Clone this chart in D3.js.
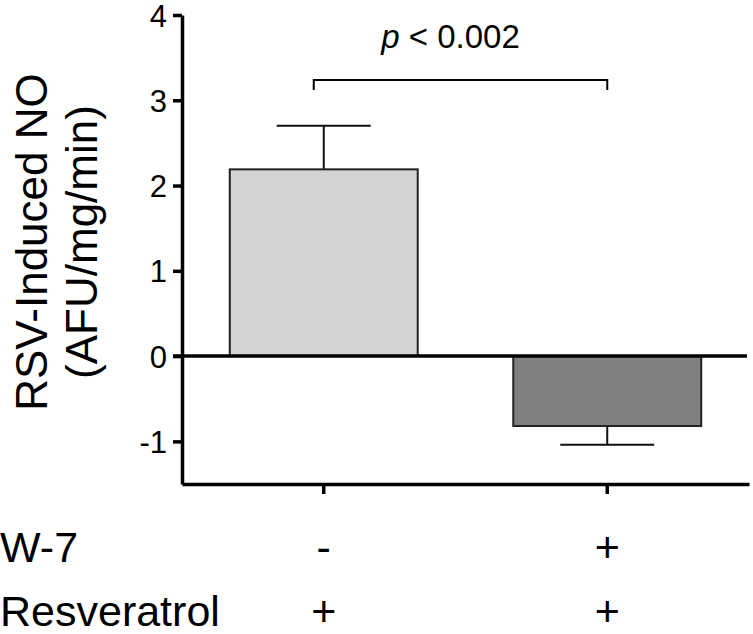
<!DOCTYPE html>
<html>
<head>
<meta charset="utf-8">
<script src="https://cdn.jsdelivr.net/npm/d3@7"></script>
<style>
	body { margin: 0; background: #fff; }
	text { font-family: "Liberation Sans", Arial, sans-serif; fill: #000; }
</style>
</head>
<body>
<svg id="chart" width="753" height="634"></svg>
<script>
// data
var groups = ["A", "B"];
var means = [2.19, -0.82];
var errors = [0.51, 0.22];
var barColors = ["#d3d3d3", "#808080"];
var yTicks = [-1, 0, 1, 2, 3, 4];
var w7Signs = ["-", "+"];
var resvSigns = ["+", "+"];
var pLabel = "0.002";

var svg = d3.select("#chart");

var x = d3.scaleBand()
	.domain(groups)
	.range([182, 749])
	.paddingInner(0)
	.paddingOuter(0);

var y = d3.scaleLinear()
	.domain([-1.5, 4])
	.range([484, 15]);

var barW = x.bandwidth() * 0.663;
var capW = barW / 2;
var cx = function (d) { return x(d) + x.bandwidth() / 2; };

// y axis
var yAxis = svg.append("g")
	.attr("transform", "translate(182,0)")
	.call(d3.axisLeft(y).tickValues(yTicks).tickSize(9).tickSizeOuter(0).tickPadding(6)
		.tickFormat(function (d) { return String(d); }));
yAxis.select(".domain").attr("stroke", "#000").attr("stroke-width", 3.5);
yAxis.selectAll(".tick line").attr("stroke", "#000").attr("stroke-width", 3.5);
yAxis.selectAll(".tick text")
	.style("font-family", "'Liberation Sans', Arial, sans-serif")
	.style("font-size", "31px")
	.attr("dy", "0.36em")
	.attr("fill", "#000");

// x axis
var xAxis = svg.append("g")
	.attr("transform", "translate(0," + y(-1.5) + ")")
	.call(d3.axisBottom(x).tickSize(10).tickSizeOuter(0).tickFormat(""));
xAxis.select(".domain").attr("stroke", "#000").attr("stroke-width", 3.5);
xAxis.selectAll(".tick line").attr("stroke", "#000").attr("stroke-width", 3.5);

// error bars
groups.forEach(function (g, i) {
	var end = means[i] + (means[i] >= 0 ? errors[i] : -errors[i]);
	svg.append("line")
		.attr("x1", cx(g)).attr("x2", cx(g))
		.attr("y1", y(means[i])).attr("y2", y(end))
		.attr("stroke", "#111").attr("stroke-width", 2);
	svg.append("line")
		.attr("x1", cx(g) - capW / 2).attr("x2", cx(g) + capW / 2)
		.attr("y1", y(end)).attr("y2", y(end))
		.attr("stroke", "#111").attr("stroke-width", 2);
});

// bars
svg.selectAll("rect.bar")
	.data(groups)
	.enter().append("rect")
	.attr("class", "bar")
	.attr("x", function (d) { return cx(d) - barW / 2; })
	.attr("width", barW)
	.attr("y", function (d, i) { return y(Math.max(0, means[i])); })
	.attr("height", function (d, i) { return Math.abs(y(means[i]) - y(0)); })
	.attr("fill", function (d, i) { return barColors[i]; })
	.attr("stroke", "#222")
	.attr("stroke-width", 2);

// zero line
svg.append("line")
	.attr("x1", 173).attr("x2", 747)
	.attr("y1", y(0)).attr("y2", y(0))
	.attr("stroke", "#000").attr("stroke-width", 3.5);

// significance bracket
var bTop = 80;
var bLeft = cx(groups[0]) - 10, bRight = cx(groups[1]);
svg.append("path")
	.attr("d", "M" + bLeft + "," + (bTop + 10) + "V" + bTop +
		"H" + bRight + "V" + (bTop + 10))
	.attr("fill", "none").attr("stroke", "#000").attr("stroke-width", 2);

var pText = svg.append("text")
	.attr("x", (bLeft + bRight) / 2 - 10)
	.attr("y", 48)
	.attr("text-anchor", "middle")
	.style("font-size", "33px");
pText.append("tspan").style("font-style", "italic").text("p");
pText.append("tspan").text(" < " + pLabel);

// y axis title
var yTitle = svg.append("text")
	.attr("transform", "translate(47,242) rotate(-90)")
	.attr("text-anchor", "middle")
	.style("font-size", "44px");
yTitle.append("tspan").attr("x", 0).attr("y", 0).text("RSV-Induced NO");
yTitle.append("tspan").attr("x", 0).attr("y", 50).text("(AFU/mg/min)");

// treatment rows
var rows = [
	{ label: "W-7", signs: w7Signs, y: 562 },
	{ label: "Resveratrol", signs: resvSigns, y: 626 }
];
rows.forEach(function (r) {
	svg.append("text")
		.attr("x", 0).attr("y", r.y)
		.style("font-size", "43px")
		.text(r.label);
	groups.forEach(function (g, i) {
		svg.append("text")
			.attr("x", cx(g)).attr("y", r.y)
			.attr("text-anchor", "middle")
			.style("font-size", "43px")
			.text(r.signs[i]);
	});
});
</script>
</body>
</html>
